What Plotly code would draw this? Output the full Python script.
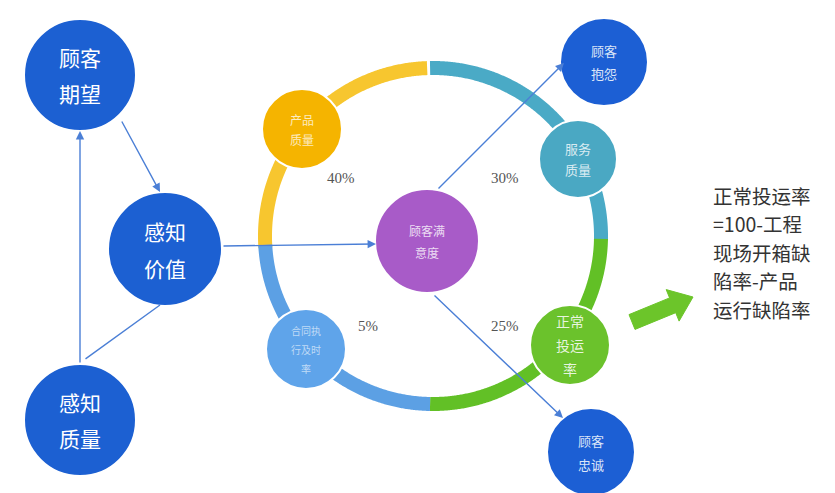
import numpy as np
import plotly.graph_objects as go

W, H = 835, 493

# ring segments (weights shown on the ring)
seg_labels = ["40%", "30%", "25%", "5%"]
seg_start = [184, 91, -1, 269]     # degrees
seg_end = [92, -1.5, -91, 183]
seg_colors = ["#F7C62F", "#4AAAC6", "#62C026", "#5CA0E4"]
pct_pos = [(333, 170), (497, 170), (497, 318), (360, 318)]
ring_c = (425, 228)
ring_r = 168

# nodes
node_lines = [["顾客", "期望"], ["感知", "价值"], ["感知", "质量"], ["顾客满", "意度"], ["产品", "质量"],
              ["服务", "质量"], ["正常", "投运", "率"], ["合同执", "行及时", "率"], ["顾客", "抱怨"], ["顾客", "忠诚"]]
node_xy = [(72, 67), (157, 241), (72, 412), (419, 233), (294, 121),
           (570, 151), (562, 337), (298, 341), (596, 54), (583, 444)]
node_r = [56, 57, 56, 52, 40, 39, 40, 40, 44, 44]
node_color = ["#1C60D2", "#1C60D2", "#1C60D2", "#A85BC8", "#F5B400",
              "#4AA8C3", "#6BC22C", "#5FA4EA", "#1C5FD4", "#1C5FD4"]
node_fs = [21, 21, 21, 12, 12, 13, 14, 10, 13, 13]
node_gap = [36, 37, 36, 22, 20, 21, 24, 19, 23, 24]
node_fc = ["white", "white", "white", "rgba(255,255,255,0.8)", "rgba(255,255,255,0.75)",
           "rgba(255,255,255,0.8)", "rgba(255,255,255,0.85)", "rgba(255,255,255,0.6)",
           "rgba(255,255,255,0.85)", "rgba(255,255,255,0.85)"]

# connecting arrows (tail -> head), head flag
links = [((72, 356), (72, 123), True), ((113, 112), (152, 184), True),
         ((76, 352), (152, 297), False), ((214, 238), (368, 236), True),
         ((429, 182), (556, 55), True), ((425, 286), (555, 410), True)]

note_lines = ["正常投运率", "=100-工程", "现场开箱缺", "陷率-产品", "运行缺陷率"]
note_y = [187, 215.5, 244, 272.5, 301]

fig = go.Figure()

# ring arcs
for s, e, c in zip(seg_start, seg_end, seg_colors):
    t = np.radians(np.linspace(s, e, 240))
    fig.add_trace(go.Scatter(x=ring_c[0] + ring_r * np.cos(t), y=ring_c[1] - ring_r * np.sin(t),
                             mode="lines", line=dict(color=c, width=14, simplify=False),
                             hoverinfo="skip", showlegend=False))

shapes = []
annots = []

# links
for (tx, ty), (hx, hy), head in links:
    annots.append(dict(x=hx, y=hy, ax=tx, ay=ty, xref="x", yref="y", axref="x", ayref="y",
                       text="", showarrow=True, arrowhead=2 if head else 0, arrowsize=1.2,
                       arrowwidth=1.4, arrowcolor="#4B7FD6"))

# nodes
for (x, y), r, c in zip(node_xy, node_r, node_color):
    shapes.append(dict(type="circle", xref="x", yref="y", x0=x - r, x1=x + r, y0=y - r, y1=y + r,
                       fillcolor=c, line=dict(color="white", width=2), layer="above"))
for (x, y), lines, fs, gap, fc in zip(node_xy, node_lines, node_fs, node_gap, node_fc):
    k = len(lines)
    for i, t in enumerate(lines):
        yy = y + (i - (k - 1) / 2) * gap
        annots.append(dict(x=x, y=yy, xref="x", yref="y", text=t, showarrow=False,
                           font=dict(family="Noto Sans CJK SC", size=fs, color=fc)))

# percentages
for (x, y), t in zip(pct_pos, seg_labels):
    annots.append(dict(x=x, y=y, xref="x", yref="y", text=t, showarrow=False,
                       font=dict(family="Liberation Serif", size=15, color="#555555")))

# big green arrow
tail = np.array([624.0, 314.0]); tip = np.array([685.0, 289.0])
d = (tip - tail) / np.linalg.norm(tip - tail); n = np.array([-d[1], d[0]])
hl, sw, hw = 22, 8, 17
base = tip - d * hl
pts = [tail + n * sw, base + n * sw, base + n * hw, tip, base - n * hw, base - n * sw, tail - n * sw]
path = "M " + " L ".join(f"{p[0]:.1f},{p[1]:.1f}" for p in pts) + " Z"
shapes.append(dict(type="path", xref="x", yref="y", path=path, fillcolor="#6CC52A",
                   line=dict(color="#6CC52A", width=1)))

# note text
for t, y in zip(note_lines, note_y):
    annots.append(dict(x=703, y=y, xref="x", yref="y", text=t, showarrow=False, xanchor="left",
                       font=dict(family="Noto Sans CJK SC", size=19.5, color="#333333")))

fig.update_layout(width=W, height=H, margin=dict(l=0, r=0, t=0, b=0),
                  paper_bgcolor="white", plot_bgcolor="white",
                  xaxis=dict(range=[0, W], visible=False, fixedrange=True),
                  yaxis=dict(range=[H, 0], visible=False, fixedrange=True),
                  shapes=shapes, annotations=annots, showlegend=False)
fig.write_html("out.html")
